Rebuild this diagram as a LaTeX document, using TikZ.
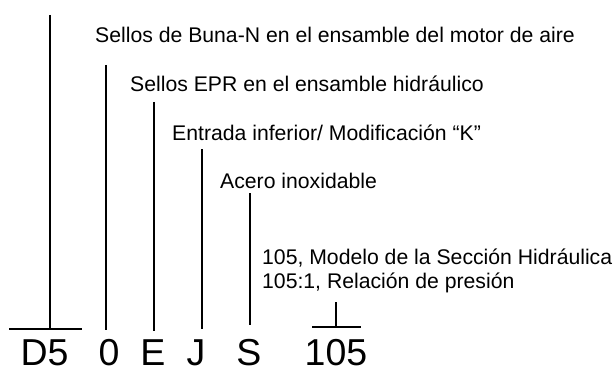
\documentclass[tikz,border=0pt]{standalone}
\usepackage{fontspec}
\setmainfont{Liberation Sans}
\begin{document}
\begin{tikzpicture}[x=1pt,y=-1pt,
  lbl/.style={anchor=base west,inner sep=0pt,font=\fontsize{21.2}{24}\selectfont},
  code/.style={anchor=base,inner sep=0pt,font=\fontsize{37.5}{40}\selectfont},
  lead/.style={line width=1.7pt}]
\useasboundingbox (0,0) rectangle (615,377);
% labels
\node[lbl] (t1) at (95,43) {Sellos de Buna-N en el ensamble del motor de aire};
\node[lbl] (t2) at (130,92) {Sellos EPR en el ensamble hidráulico};
\node[lbl] (t3) at (172,140) {Entrada inferior/ Modificación “K”};
\node[lbl] (t4) at (220,188) {Acero inoxidable};
\node[lbl] (t5) at (262,264) {105, Modelo de la Sección Hidráulica};
\node[lbl] (t6) at (262,288) {105:1, Relación de presión};
% code letters
\node[code] (c1) at (44.5,365) {D5};
\node[code] (c2) at (109,365) {0};
\node[code] (c3) at (153,365) {E};
\node[code] (c4) at (196,365) {J};
\node[code] (c5) at (249,365) {S};
\node[code] (c6) at (336,365) {105};
% leader endpoints
\coordinate (a1) at (50,15);   \coordinate (b1) at (50,329);
\coordinate (h1l) at (9,329);  \coordinate (h1r) at (82,329);
\coordinate (a2) at (105.7,65);  \coordinate (b2) at (105.7,330);
\coordinate (a3) at (153.7,102); \coordinate (b3) at (153.7,331);
\coordinate (a4) at (201.7,149); \coordinate (b4) at (201.7,329);
\coordinate (a5) at (249.7,193); \coordinate (b5) at (249.7,325);
\coordinate (a6) at (336,302);   \coordinate (b6) at (336,327);
\coordinate (h6l) at (312,327);  \coordinate (h6r) at (361,327);
\draw[lead] (a1) -- (b1);
\draw[lead] (h1l) -- (h1r);
\draw[lead] (a2) -- (b2);
\draw[lead] (a3) -- (b3);
\draw[lead] (a4) -- (b4);
\draw[lead] (a5) -- (b5);
\draw[lead] (a6) -- (b6);
\draw[lead] (h6l) -- (h6r);
\end{tikzpicture}
\end{document}
